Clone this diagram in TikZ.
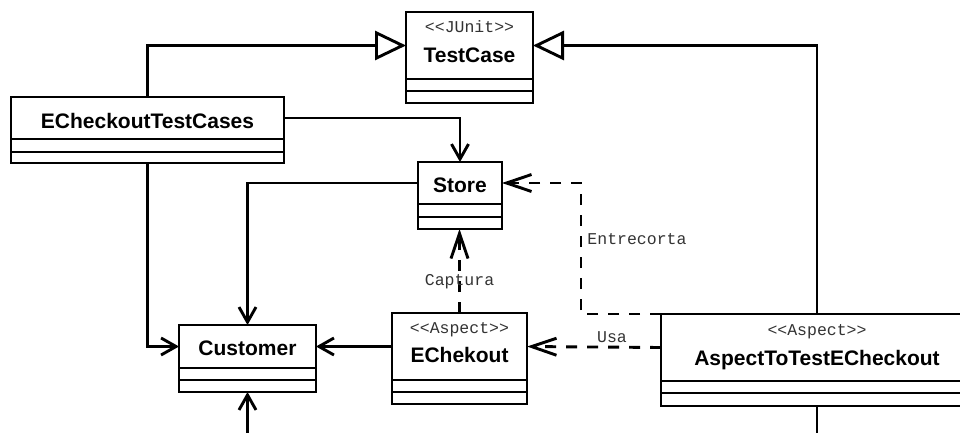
\documentclass[tikz,border=0pt]{standalone}
\usepackage{fontspec}
\newfontfamily\umlsans{Liberation Sans}
\newfontfamily\umlmono{Liberation Mono}[Ligatures=TeXOff]
\usetikzlibrary{arrows.meta}

% A UML class: name, left, top, right, bottom of title, bottom of attributes, bottom
\newcommand\umlclass[7]{%
  \node[umlbox, anchor=north west, minimum width={#4-#2}, minimum height={#5-#3}] (#1) at (#2,#3) {};
  \node[umlbox, anchor=north west, minimum width={#4-#2}, minimum height={#6-#5}] (#1-a) at (#1.south west) {};
  \node[umlbox, anchor=north west, minimum width={#4-#2}, minimum height={#7-#6}] (#1-b) at (#1-a.south west) {};
}

\begin{document}
\begin{tikzpicture}[x=1pt,y=-1pt,
  umlbox/.style={draw, line width=2.9pt, inner sep=0pt, outer sep=0pt, fill=white},
  classname/.style={font=\umlsans\bfseries\fontsize{21}{25}\selectfont, inner sep=0pt, anchor=base},
  stereo/.style={font=\umlmono\fontsize{16.5}{20}\selectfont, text=black!80, inner sep=0pt, anchor=base},
  note/.style={font=\umlmono\fontsize{16.5}{20}\selectfont, text=black!80, inner sep=0pt},
  conn/.style={line width=2.9pt},
  assoc/.style={conn, -{Straight Barb[length=15pt,width=17pt]}},
  gen/.style={conn, -{Triangle[open,length=31pt,width=29pt,fill=white]}},
  dep/.style={conn, dash pattern=on 11pt off 10pt, -{Straight Barb[length=25pt,width=17pt]}},
]
\useasboundingbox (0,0) rectangle (960,432);
\clip (0,0) rectangle (960,432);

% classes
\umlclass{tc}{406}{12}{533}{79}{91}{103}
\umlclass{etc}{11}{97}{284}{139}{152}{163}
\umlclass{store}{418}{162}{502}{204}{217}{229}
\umlclass{cust}{179}{325}{316}{368}{380}{392}
\umlclass{echk}{392}{313}{527}{380}{392}{404}
\umlclass{asp}{661}{314}{973}{381}{393}{406}

% class titles
\node[stereo] (tc-st) at (469.5,32) {<<JUnit>>};
\node[classname] (tc-name) at (469.5,62) {TestCase};
\node[classname] (etc-name) at (147.5,128) {ECheckoutTestCases};
\node[classname] (store-name) at (460,192) {Store};
\node[classname] (cust-name) at (247.5,355) {Customer};
\node[stereo] (echk-st) at (459.5,333) {<<Aspect>>};
\node[classname] (echk-name) at (459.5,362) {EChekout};
\node[stereo] (asp-st) at (817,335) {<<Aspect>>};
\node[classname] (asp-name) at (817,365) {AspectToTestECheckout};

% generalizations
\draw[gen] (etc.north) |- (tc.west);
\draw[gen] (asp.north) |- (tc.east);

% associations
\draw[assoc] (etc.east) -| (store.north);
\draw[assoc] (store.west) -| (cust.north);
\draw[assoc] (etc-b.south) |- (cust.west);
\draw[assoc] (echk.west) -- (cust.east);

% aspect dependencies
\draw[dep] (echk.north) -- (echk.north |- store-b.south)
  node[note, anchor=base, pos=0.333] (lbl-cap) {Captura};
\draw[dep] (asp.north west) -- ++(-80,0) |- (store.east)
  node[note, anchor=base west, pos=0.267, xshift=5pt] (lbl-ent) {Entrecorta};
\draw[dep] (asp.west) -- (echk.east)
  node[note, anchor=base, pos=0.366, yshift=5pt] (lbl-usa) {Usa};

% links leaving the lower edge
\coordinate (asp-exit) at (817,440);
\draw[conn] (asp-b.south) -- (asp-exit);
\coordinate (cust-entry) at (247.5,440);
\draw[assoc] (cust-entry) -- (cust-b.south);
\end{tikzpicture}
\end{document}
